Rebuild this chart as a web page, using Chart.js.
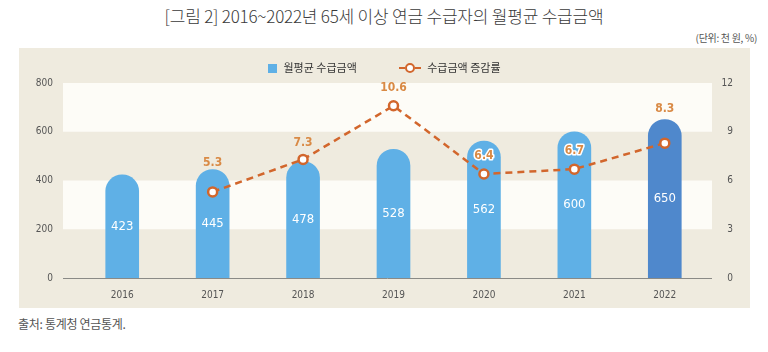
<!DOCTYPE html>
<html>
<head>
<meta charset="utf-8">
<script src="https://cdn.jsdelivr.net/npm/chart.js@4.4.1/dist/chart.umd.min.js"></script>
<style>
  body { margin: 0; background: #fff; font-family: "Noto Sans CJK KR", "Noto Sans", sans-serif; }
  #wrap { position: relative; width: 768px; height: 352px; overflow: hidden; }
  #title { position: absolute; left: 0; top: 3px; width: 768px; text-align: center; font-size: 17px; color: #3a3a3a; font-weight: 300; letter-spacing: -0.2px; }
  #unit { position: absolute; right: 11px; top: 30px; font-size: 10px; color: #555; letter-spacing: -0.3px; }
  #panel { position: absolute; left: 19px; top: 48px; width: 731px; height: 260px; background: #efebdf; }
  #legend { position: absolute; left: 0; top: 9px; width: 731px; text-align: center; font-size: 11px; color: #333; }
  #legend span.item { display: inline-block; margin: 0 20px; vertical-align: middle; }
  .sq { display: inline-block; width: 9px; height: 9px; background: #5fb0e6; margin-right: 6px; vertical-align: -1px; }
  .ln { display: inline-block; position: relative; width: 22px; height: 10px; margin-right: 6px; vertical-align: -1px; }
  .ln::before { content: ""; position: absolute; left: 0; right: 0; top: 4px; border-top: 2px dashed #d2662c; }
  .ln::after { content: ""; position: absolute; left: 6px; top: 0; width: 6px; height: 6px; border: 2px solid #d2662c; border-radius: 50%; background: #fff; }
  #source { position: absolute; left: 18px; top: 315px; font-size: 12px; color: #555; letter-spacing: -0.3px; }
  canvas { position: absolute; left: 0; top: 0; }
</style>
</head>
<body>
<div id="wrap">
  <div id="title">[그림 2] 2016~2022년 65세 이상 연금 수급자의 월평균 수급금액</div>
  <div id="unit">(단위: 천 원, %)</div>
  <div id="panel">
    <canvas id="myChart" width="731" height="260"></canvas>
    <div id="legend">
      <span class="item"><span class="sq"></span>월평균 수급금액</span>
      <span class="item"><span class="ln"></span>수급금액 증감률</span>
    </div>
  </div>
  <div id="source">출처: 통계청 연금통계.</div>
</div>
<script>
var years = ['2016', '2017', '2018', '2019', '2020', '2021', '2022'];
var amount = [423, 445, 478, 528, 562, 600, 650];
var growth = [null, 5.3, 7.3, 10.6, 6.4, 6.7, 8.3];
var leftTicks = [0, 200, 400, 600, 800];
var rightTicks = [0, 3, 6, 9, 12];

var barColors = amount.map(function (v, i) { return i === amount.length - 1 ? '#4f88cc' : '#5fb0e6'; });
var numFont = '"DejaVu Sans Condensed", "Liberation Sans Narrow", "Roboto", sans-serif';

// white bands + base line
var bandPlugin = {
    id: 'bands',
    beforeDraw: function (chart) {
        var ctx = chart.ctx, y = chart.scales.y, a = chart.chartArea;
        var x0 = a.left - 14, x1 = a.right + 2;
        ctx.save();
        ctx.fillStyle = '#fdfcf7';
        [[600, 800], [200, 400]].forEach(function (b) {
            var top = y.getPixelForValue(b[1]), bot = y.getPixelForValue(b[0]);
            ctx.fillRect(x0, top, x1 - x0, bot - top);
        });
        ctx.restore();
    },
    afterDatasetsDraw: function (chart) {
        var ctx = chart.ctx, y = chart.scales.y, a = chart.chartArea;
        ctx.save();
        ctx.strokeStyle = '#8a8a86';
        ctx.lineWidth = 1;
        ctx.beginPath();
        ctx.moveTo(a.left - 14, y.getPixelForValue(0) + 0.5);
        ctx.lineTo(a.right + 2, y.getPixelForValue(0) + 0.5);
        ctx.stroke();
        ctx.restore();
    }
};

// value labels
var lift = [0, 29, 17, 18, 18, 18, 34];
var labelPlugin = {
    id: 'labels',
    afterDraw: function (chart) {
        var ctx = chart.ctx;
        ctx.save();
        ctx.textAlign = 'center';
        ctx.textBaseline = 'middle';
        var bars = chart.getDatasetMeta(1).data;
        ctx.font = '13px ' + numFont;
        ctx.fillStyle = '#ffffff';
        bars.forEach(function (b, i) {
            ctx.fillText(amount[i], b.x, (b.y + b.base) / 2);
        });
        var pts = chart.getDatasetMeta(0).data;
        ctx.font = 'bold 12px ' + numFont;
        pts.forEach(function (p, i) {
            if (growth[i] === null) return;
            var txt = growth[i].toFixed(1);
            var ty = p.y - lift[i];
            if (i === 4 || i === 5) {
                ctx.strokeStyle = '#ffffff';
                ctx.lineWidth = 3;
                ctx.lineJoin = 'round';
                ctx.strokeText(txt, p.x, ty);
            }
            ctx.fillStyle = '#d98a45';
            ctx.fillText(txt, p.x, ty);
        });
        ctx.restore();
    }
};

var chartArea = document.getElementById('myChart').getContext('2d');

var myChart = new Chart(chartArea, {
    type: 'bar',
    data: {
        labels: years,
        datasets: [{
            type: 'line',
            label: '수급금액 증감률',
            data: growth,
            yAxisID: 'y2',
            borderColor: '#d2662c',
            borderWidth: 2.5,
            borderDash: [7, 5],
            pointRadius: 4.5,
            pointBorderWidth: 2.5,
            pointBackgroundColor: '#ffffff',
            pointBorderColor: '#d2662c',
            spanGaps: false,
            order: 0
        }, {
            label: '월평균 수급금액',
            data: amount,
            yAxisID: 'y',
            backgroundColor: barColors,
            barThickness: 33,
            borderRadius: { topLeft: 17, topRight: 17, bottomLeft: 0, bottomRight: 0 },
            borderSkipped: 'bottom',
            order: 1
        }]
    },
    options: {
        responsive: false,
        animation: false,
        layout: { padding: { top: 35, right: 17, left: 0, bottom: 0 } },
        plugins: {
            legend: { display: false },
            tooltip: { enabled: false }
        },
        scales: {
            x: {
                grid: { display: false, drawTicks: false },
                border: { display: false },
                ticks: { color: '#555', font: { size: 10, family: numFont }, padding: 11 },
                afterFit: function (s) { s.height = 29; }
            },
            y: {
                position: 'left',
                min: 0, max: 800,
                afterBuildTicks: function (s) { s.ticks = leftTicks.map(function (v) { return { value: v }; }); },
                grid: { display: false, drawTicks: false },
                border: { display: false },
                ticks: { color: '#555', font: { size: 10, family: numFont }, padding: 24 },
                afterFit: function (s) { s.width = 58; }
            },
            y2: {
                position: 'right',
                min: 0, max: 12,
                afterBuildTicks: function (s) { s.ticks = rightTicks.map(function (v) { return { value: v }; }); },
                grid: { display: false, drawTicks: false },
                border: { display: false },
                ticks: { color: '#555', font: { size: 10, family: numFont }, padding: 13, crossAlign: 'far' },
                afterFit: function (s) { s.width = 23; }
            }
        }
    },
    plugins: [bandPlugin, labelPlugin]
});
</script>
</body>
</html>
